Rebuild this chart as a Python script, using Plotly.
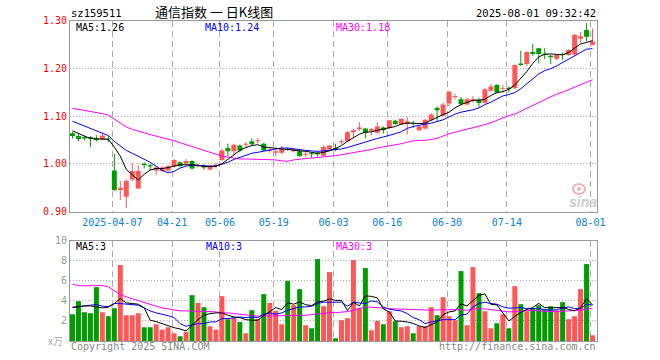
import plotly.graph_objects as go

# ---------------- data ----------------
tick_index = [7, 17, 25, 34, 44, 53, 63, 73, 87]
tick_labels = ["2025-04-07", "04-21", "05-06", "05-19", "06-03", "06-16", "06-30", "07-14", "08-01"]

opens = [
    1.064, 1.058, 1.056, 1.056, 1.053, 1.051, 1.053, 0.986, 0.945, 0.931,
    0.967, 0.948, 1.000, 0.997, 0.986, 0.985, 0.986, 0.994, 1.003, 1.001,
    1.006, 0.994, 0.995, 0.988, 0.995, 1.008, 1.033, 1.026, 1.038, 1.040,
    1.047, 1.047, 1.042, 1.027, 1.023, 1.023, 1.031, 1.026, 1.026, 1.019,
    1.022, 1.023, 1.017, 1.030, 1.033, 1.045, 1.047, 1.066, 1.072, 1.074,
    1.069, 1.065, 1.076, 1.075, 1.090, 1.082, 1.084, 1.085, 1.070, 1.074,
    1.091, 1.117, 1.101, 1.126, 1.140, 1.135, 1.124, 1.131, 1.134, 1.128,
    1.153, 1.165, 1.157, 1.159, 1.158, 1.210, 1.209, 1.234, 1.242, 1.231,
    1.226, 1.220, 1.230, 1.228, 1.229, 1.262, 1.280, 1.249]
closes = [
    1.058, 1.052, 1.053, 1.053, 1.049, 1.059, 1.051, 0.945, 0.950, 0.964,
    0.985, 0.985, 0.997, 0.994, 0.992, 0.992, 0.995, 1.008, 0.995, 1.006,
    0.990, 0.997, 0.992, 0.995, 0.998, 1.028, 1.026, 1.040, 1.028, 1.042,
    1.041, 1.049, 1.028, 1.030, 1.026, 1.031, 1.029, 1.030, 1.016, 1.021,
    1.020, 1.020, 1.035, 1.038, 1.030, 1.047, 1.066, 1.070, 1.076, 1.065,
    1.073, 1.078, 1.070, 1.091, 1.083, 1.094, 1.089, 1.084, 1.078, 1.092,
    1.103, 1.112, 1.124, 1.151, 1.142, 1.125, 1.135, 1.135, 1.127, 1.156,
    1.162, 1.149, 1.158, 1.156, 1.207, 1.207, 1.234, 1.230, 1.230, 1.229,
    1.223, 1.228, 1.228, 1.238, 1.270, 1.267, 1.266, 1.256]
highs = [
    1.067, 1.062, 1.059, 1.058, 1.060, 1.063, 1.058, 1.021, 0.964, 0.967,
    1.001, 0.997, 1.003, 1.000, 0.995, 0.995, 0.998, 1.010, 1.005, 1.010,
    1.007, 0.999, 0.999, 0.997, 1.002, 1.031, 1.042, 1.042, 1.040, 1.045,
    1.053, 1.054, 1.044, 1.033, 1.029, 1.038, 1.034, 1.033, 1.029, 1.025,
    1.024, 1.026, 1.038, 1.039, 1.042, 1.051, 1.069, 1.073, 1.087, 1.075,
    1.075, 1.087, 1.078, 1.092, 1.092, 1.095, 1.098, 1.090, 1.080, 1.094,
    1.106, 1.120, 1.128, 1.153, 1.147, 1.140, 1.138, 1.142, 1.138, 1.158,
    1.167, 1.167, 1.165, 1.162, 1.208, 1.237, 1.235, 1.251, 1.243, 1.242,
    1.228, 1.230, 1.233, 1.240, 1.272, 1.276, 1.295, 1.283]
lows = [
    1.053, 1.047, 1.049, 1.035, 1.047, 1.049, 1.045, 0.943, 0.924, 0.907,
    0.964, 0.947, 0.990, 0.986, 0.976, 0.983, 0.983, 0.992, 0.994, 0.997,
    0.988, 0.992, 0.987, 0.986, 0.990, 1.006, 1.016, 1.019, 1.024, 1.035,
    1.038, 1.042, 1.026, 1.023, 1.016, 1.020, 1.027, 1.024, 1.014, 1.015,
    1.013, 1.015, 1.016, 1.028, 1.026, 1.040, 1.045, 1.053, 1.069, 1.053,
    1.059, 1.063, 1.063, 1.073, 1.081, 1.081, 1.061, 1.075, 1.068, 1.072,
    1.090, 1.089, 1.099, 1.120, 1.135, 1.122, 1.122, 1.128, 1.119, 1.126,
    1.151, 1.148, 1.149, 1.149, 1.156, 1.205, 1.205, 1.226, 1.210, 1.219,
    1.209, 1.217, 1.217, 1.226, 1.227, 1.254, 1.256, 1.248]

ma5 = [
    1.069, 1.063, 1.058, 1.053, 1.052, 1.052, 1.051, 1.035, 1.016, 0.988,
    0.976, 0.966, 0.978, 0.987, 0.990, 0.990, 0.992, 0.995, 0.998, 0.998,
    0.997, 0.997, 0.994, 0.994, 0.995, 1.000, 1.009, 1.019, 1.028, 1.034,
    1.038, 1.040, 1.035, 1.034, 1.032, 1.031, 1.030, 1.028, 1.027, 1.026,
    1.024, 1.022, 1.024, 1.027, 1.032, 1.038, 1.047, 1.054, 1.062, 1.066,
    1.067, 1.070, 1.073, 1.076, 1.078, 1.083, 1.085, 1.085, 1.084, 1.085,
    1.091, 1.098, 1.103, 1.108, 1.117, 1.124, 1.128, 1.133, 1.133, 1.135,
    1.143, 1.149, 1.151, 1.156, 1.165, 1.178, 1.193, 1.210, 1.224, 1.229,
    1.230, 1.229, 1.228, 1.233, 1.242, 1.251, 1.254, 1.258]
ma10 = [
    1.089, 1.084, 1.079, 1.074, 1.069, 1.065, 1.059, 1.047, 1.037, 1.028,
    1.022, 1.016, 1.010, 1.003, 0.995, 0.986, 0.981, 0.984, 0.991, 0.995,
    0.997, 0.997, 0.996, 0.995, 0.995, 0.999, 1.003, 1.009, 1.013, 1.017,
    1.022, 1.024, 1.026, 1.028, 1.031, 1.033, 1.033, 1.031, 1.030, 1.028,
    1.027, 1.026, 1.027, 1.028, 1.029, 1.031, 1.034, 1.038, 1.041, 1.046,
    1.049, 1.053, 1.056, 1.059, 1.063, 1.067, 1.074, 1.078, 1.081, 1.083,
    1.085, 1.088, 1.092, 1.098, 1.104, 1.108, 1.110, 1.113, 1.117, 1.124,
    1.129, 1.136, 1.142, 1.145, 1.149, 1.157, 1.167, 1.178, 1.188, 1.195,
    1.199, 1.205, 1.212, 1.219, 1.226, 1.234, 1.240, 1.241]
ma30 = [
    1.116, 1.114, 1.112, 1.110, 1.108, 1.105, 1.102, 1.094, 1.085, 1.077,
    1.072, 1.068, 1.065, 1.061, 1.058, 1.055, 1.052, 1.048, 1.044, 1.040,
    1.035, 1.031, 1.028, 1.024, 1.020, 1.016, 1.014, 1.012, 1.010, 1.010,
    1.009, 1.009, 1.009, 1.009, 1.008, 1.006, 1.005, 1.008, 1.010, 1.011,
    1.012, 1.013, 1.014, 1.015, 1.017, 1.019, 1.021, 1.023, 1.025, 1.028,
    1.030, 1.033, 1.035, 1.038, 1.040, 1.042, 1.045, 1.048, 1.049, 1.049,
    1.051, 1.053, 1.058, 1.063, 1.066, 1.069, 1.072, 1.075, 1.078, 1.082,
    1.086, 1.091, 1.097, 1.101, 1.104, 1.110, 1.116, 1.122, 1.128, 1.134,
    1.140, 1.146, 1.150, 1.155, 1.160, 1.166, 1.171, 1.176]

volumes = [
    2.67, 3.97, 2.87, 2.77, 5.37, 2.87, 2.47, 3.27, 7.57, 2.57,
    2.57, 2.77, 1.37, 1.37, 1.67, 1.13, 1.37, 0.77, 0.47, 0.90,
    4.57, 3.80, 3.37, 1.47, 1.13, 4.47, 2.17, 2.33, 1.90, 0.77,
    3.07, 2.20, 4.67, 3.80, 3.00, 1.67, 6.00, 3.57, 5.17, 1.57,
    1.27, 8.17, 3.47, 6.87, 0.27, 2.07, 2.27, 8.07, 3.27, 7.27,
    1.07, 2.00, 1.67, 2.97, 1.97, 1.37, 1.47, 0.77, 1.47, 1.47,
    3.37, 2.57, 4.37, 2.47, 2.07, 6.97, 1.57, 7.37, 4.77, 2.97,
    1.27, 1.77, 2.67, 1.27, 5.47, 3.67, 2.97, 3.27, 3.57, 3.17,
    3.47, 3.07, 3.87, 2.17, 2.47, 5.17, 7.67, 0.57]
vol_ma5 = [
    3.37, 3.47, 3.50, 3.50, 3.43, 3.30, 3.37, 3.73, 4.23, 3.80,
    3.73, 3.67, 3.30, 2.07, 1.93, 1.73, 1.47, 1.33, 1.20, 1.00,
    1.57, 2.13, 2.57, 2.73, 2.80, 2.80, 2.57, 2.40, 2.33, 2.13,
    2.07, 2.07, 2.53, 2.95, 3.33, 3.13, 3.80, 3.67, 3.90, 3.62,
    3.53, 3.90, 3.97, 4.20, 4.05, 4.05, 3.03, 3.85, 3.50, 4.50,
    4.45, 4.30, 3.20, 2.90, 2.00, 1.97, 1.90, 1.75, 1.50, 1.35,
    1.60, 1.90, 2.62, 2.90, 3.00, 3.70, 3.50, 4.05, 4.55, 4.70,
    3.65, 3.60, 2.75, 2.00, 2.45, 2.85, 3.15, 3.33, 3.75, 3.33,
    3.30, 3.31, 3.35, 3.15, 3.01, 3.33, 4.20, 3.60]
vol_ma10 = [
    3.33, 3.43, 3.50, 3.57, 3.63, 3.47, 3.43, 3.73, 3.73, 3.67,
    3.63, 3.57, 3.30, 3.00, 2.80, 2.67, 2.53, 2.33, 1.73, 1.47,
    1.57, 1.73, 1.73, 1.90, 1.90, 2.23, 2.23, 2.33, 2.40, 2.33,
    2.40, 2.33, 2.67, 2.80, 2.67, 2.80, 3.07, 3.23, 3.40, 3.40,
    3.47, 3.73, 3.87, 3.87, 3.87, 3.87, 3.47, 3.87, 3.80, 3.73,
    4.00, 3.90, 3.40, 3.17, 3.07, 3.00, 2.73, 2.33, 2.13, 1.73,
    1.90, 2.00, 2.13, 2.13, 2.13, 2.60, 2.67, 3.40, 3.73, 3.87,
    3.73, 3.67, 3.40, 3.27, 3.27, 3.33, 3.23, 3.23, 3.23, 3.13,
    3.07, 3.13, 3.23, 3.40, 3.23, 3.23, 3.67, 3.57]
vol_ma30 = [
    5.67, 5.53, 5.50, 5.53, 5.57, 5.53, 5.40, 5.00, 4.63, 4.40,
    4.20, 4.00, 3.80, 3.60, 3.47, 3.30, 3.20, 3.07, 3.00, 3.00,
    3.00, 3.00, 2.93, 2.93, 2.90, 2.80, 2.80, 2.73, 2.67, 2.60,
    2.53, 2.47, 2.50, 2.53, 2.53, 2.53, 2.53, 2.53, 2.53, 2.57,
    2.63, 2.70, 2.80, 2.83, 2.83, 2.87, 2.93, 3.07, 3.27, 3.40,
    3.37, 3.30, 3.27, 3.23, 3.20, 3.17, 3.13, 3.10, 3.07, 3.07,
    3.07, 3.10, 3.13, 3.10, 3.13, 3.10, 3.07, 3.20, 3.23, 3.20,
    3.13, 3.03, 2.97, 2.90, 2.93, 3.00, 3.03, 3.07, 3.00, 2.93,
    2.93, 2.93, 2.97, 2.97, 3.03, 3.07, 3.20, 3.23]

price_ticks = [0.90, 1.00, 1.10, 1.20, 1.30]
vol_ticks = [2, 4, 6, 8, 10]

# ---------------- styling ----------------
RED = "#ff5757"
GREEN = "#009c00"
BLUE = "#0000ff"
MAG = "#ff00ff"
GRID = "#aaaaaa"
BORDER = "#999999"
MONO = "DejaVu Sans Mono"
CJK = "Noto Sans CJK SC"

n = len(closes)
idx = list(range(n))
up = [i for i in idx if closes[i] >= opens[i]]
dn = [i for i in idx if closes[i] < opens[i]]

fig = go.Figure()

# candles
for ids, col in ((up, RED), (dn, GREEN)):
    wx, wy = [], []
    for i in ids:
        wx += [i, i, None]
        wy += [lows[i], highs[i], None]
    fig.add_trace(go.Scatter(x=wx, y=wy, mode="lines", line=dict(color=col, width=1),
                             xaxis="x", yaxis="y", hoverinfo="skip"))
    fig.add_trace(go.Bar(x=ids,
                         y=[max(abs(closes[i] - opens[i]), 0.0015) for i in ids],
                         base=[min(opens[i], closes[i]) for i in ids],
                         width=5 / 6, marker=dict(color=col, line=dict(width=0)),
                         xaxis="x", yaxis="y"))

for series, col in ((ma30, MAG), (ma10, BLUE), (ma5, "#000000")):
    fig.add_trace(go.Scatter(x=idx, y=series, mode="lines", line=dict(color=col, width=1),
                             xaxis="x", yaxis="y"))

# volume
for ids, col in ((up, RED), (dn, GREEN)):
    fig.add_trace(go.Bar(x=ids, y=[volumes[i] for i in ids], width=5 / 6,
                         marker=dict(color=col, line=dict(width=0)),
                         xaxis="x2", yaxis="y2"))
for series, col in ((vol_ma30, MAG), (vol_ma10, BLUE), (vol_ma5, "#000000")):
    fig.add_trace(go.Scatter(x=idx, y=series, mode="lines", line=dict(color=col, width=1),
                             xaxis="x2", yaxis="y2"))

L, R, T, B = 70, 63, 20, 19
W, H = 660, 360
PW, PH = W - L - R, H - T - B


def px(xp):
    return (xp - L) / PW


def py(yp):
    return (H - B - yp) / PH


xr = [-2.5 / 6, n - 1 + 4.5 / 6]
grid_x = [t - 1 / 3 for t in tick_index]

xcommon = dict(range=xr, showgrid=True, gridcolor=GRID, griddash="6px,4px", gridwidth=1,
               tickvals=grid_x, zeroline=False, showline=True, linecolor=BORDER,
               linewidth=1, mirror=True, ticks="", fixedrange=True)

fig.update_layout(
    width=W, height=H,
    margin=dict(l=L, r=R, t=T, b=B, autoexpand=False),
    paper_bgcolor="white", plot_bgcolor="white",
    showlegend=False, hovermode=False, barmode="overlay",
    xaxis=dict(**xcommon, anchor="y", ticktext=tick_labels,
               tickfont=dict(family=MONO, size=10, color="#0a7fd6"),
               ticklabelstandoff=1, automargin=False),
    xaxis2=dict(**xcommon, anchor="y2", matches="x", showticklabels=False),
    yaxis=dict(domain=[py(211.5), py(20.5)], range=[0.90, 1.30], tickvals=price_ticks,
               ticktext=["%.2f" % v for v in price_ticks],
               tickfont=dict(family=MONO, size=10, color="#ff0000"),
               showgrid=True, gridcolor=GRID, griddash="1px,2px", zeroline=False,
               showline=True, linecolor=BORDER, mirror=True, ticks="",
               ticklabelstandoff=0, fixedrange=True, automargin=False),
    yaxis2=dict(domain=[0, py(240.7)], range=[0, 10], tickvals=vol_ticks,
                ticktext=[str(v) for v in vol_ticks],
                tickfont=dict(family=MONO, size=10, color="#999999"),
                showgrid=True, gridcolor=GRID, griddash="1px,2px", zeroline=False,
                showline=True, linecolor=BORDER, mirror=True, ticks="",
                ticklabelstandoff=0, fixedrange=True, automargin=False),
)


def ann(text, xp, yp, xa="left", color="#000000", size=10, family=MONO, **kw):
    fig.add_annotation(text=text, x=px(xp), y=py(yp), xref="paper", yref="paper",
                       xanchor=xa, yanchor="middle", showarrow=False,
                       font=dict(family=family, size=size, color=color), **kw)


ann("sz159511", 69, 13, size=10.5)
ann("通信指数 一 日K线图", 214, 11.5, xa="center", size=13, family=CJK, borderpad=0)
ann("2025-08-01 09:32:42", 598, 13, xa="right", size=10.5)

ann("MA5:%.2f" % ma5[-1], 74, 27)
ann("MA10:%.2f" % ma10[-1], 204, 27, color=BLUE, borderpad=0)
ann("MA30:%.2f" % ma30[-1], 334, 27, color=MAG)

ann("MA5:%d" % int(vol_ma5[-1]), 74, 246.5)
ann("MA10:%d" % int(vol_ma10[-1]), 204, 246.5, color=BLUE)
ann("MA30:%d" % int(vol_ma30[-1]), 334, 246.5, color=MAG)

ann("x万", 65, 340, xa="right", color="#aaaaaa", size=10, family=CJK)
ann("Copyright 2025 SINA.COM", 69, 346.5, color="#888888")
ann("http://finance.sina.com.cn", 598, 346.5, xa="right", color="#888888")

# sina watermark (text + eye-shaped ring)
ann("<i><b>sina</b></i>", 598, 201.5, xa="right", color="#cccccc", size=14,
    family="Liberation Sans", borderpad=0)
fig.add_shape(type="circle", xref="paper", yref="paper",
              x0=px(573), x1=px(585), y0=py(194), y1=py(184),
              line=dict(color="#f4b0b0", width=2), fillcolor="rgba(0,0,0,0)")
fig.add_shape(type="circle", xref="paper", yref="paper",
              x0=px(577), x1=px(581), y0=py(191), y1=py(187),
              line=dict(width=0), fillcolor="#f4b0b0")

fig.write_html("out.html",
               config={"displayModeBar": False, "staticPlot": True},
               post_script="document.body.style.margin='0px';document.body.style.padding='0px';")
